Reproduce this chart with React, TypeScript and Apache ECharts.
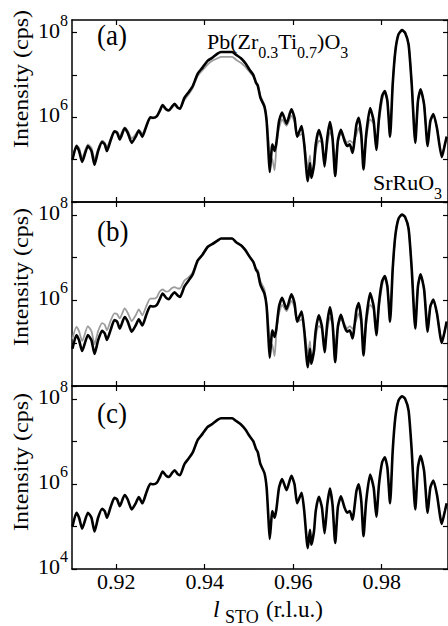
import React, { useEffect, useRef } from "react";
import * as echarts from "echarts";

// l_STO (r.l.u.) sample positions
const lSto = [
  0.9101, 0.9110, 0.9116, 0.9123, 0.9136, 0.9144, 0.9151, 0.9159, 0.9168, 0.9174,
  0.9179, 0.9187, 0.9196, 0.9202, 0.9208, 0.9219, 0.9226, 0.9235, 0.9244, 0.9251,
  0.9259, 0.9268, 0.9277, 0.9284, 0.9292, 0.9298, 0.9305, 0.9313, 0.9319, 0.9326,
  0.9332, 0.9339, 0.9344, 0.9354, 0.9364, 0.9373, 0.9384, 0.9395, 0.9407, 0.9418,
  0.9429, 0.9437, 0.9448, 0.9462, 0.9471, 0.9482, 0.9492, 0.9501, 0.9510, 0.9516,
  0.9520, 0.9526, 0.9535, 0.9540, 0.9544, 0.9547, 0.9553, 0.9558, 0.9562, 0.9568,
  0.9575, 0.9585, 0.9596, 0.9603, 0.9609, 0.9619, 0.9625, 0.9633, 0.9638, 0.9641,
  0.9647, 0.9651, 0.9658, 0.9665, 0.9671, 0.9677, 0.9683, 0.9689, 0.9695, 0.9701,
  0.9708, 0.9716, 0.9722, 0.9728, 0.9734, 0.9743, 0.9748, 0.9754, 0.9759, 0.9765,
  0.9774, 0.9782, 0.9788, 0.9794, 0.9801, 0.9807, 0.9813, 0.9819, 0.9825, 0.9831,
  0.9838, 0.9846, 0.9853, 0.9861, 0.9868, 0.9876, 0.9882, 0.9888, 0.9896, 0.9904,
  0.9910, 0.9917, 0.9925, 0.9936, 0.9943, 0.9947,
];

// Intensity (cps), black (thick) curves
const blackA = [
  1.0e5, 2.1e5, 1.6e5, 8.9e4, 2.1e5, 1.6e5, 7.6e4, 1.6e5, 2.6e5, 2.3e5,
  1.6e5, 2.8e5, 4.7e5, 4.3e5, 3.0e5, 5.5e5, 4.3e5, 2.5e5, 3.5e5, 4.9e5,
  3.5e5, 6.2e5, 1.0e6, 9.8e5, 1.07e6, 1.4e6, 1.95e6, 1.55e6, 1.45e6, 1.8e6,
  2.1e6, 1.7e6, 1.6e6, 2.9e6, 4.0e6, 5.5e6, 1.07e7, 1.5e7, 2.2e7, 2.6e7,
  3.2e7, 3.5e7, 3.5e7, 3.5e7, 3.0e7, 2.5e7, 1.9e7, 1.35e7, 1.0e7, 6.6e6,
  5.6e6, 2.9e6, 1.8e6, 8.1e5, 1.6e5, 5.1e4, 2.3e5, 1.6e5, 2.5e5, 8.1e5,
  1.3e6, 7.1e5, 1.55e6, 9.8e5, 3.5e5, 6.2e5, 2.3e5, 3.1e4, 8.3e4, 3.7e4,
  7.6e4, 2.3e5, 5.0e5, 2.8e5, 6.9e4, 3.2e5, 7.8e5, 3.2e5, 4.1e4, 2.8e5,
  5.1e5, 2.8e5, 2.1e5, 2.3e5, 1.45e5, 6.8e5, 9.8e5, 3.9e5, 5.9e4, 3.9e5,
  1.66e6, 8.1e5, 1.7e5, 9.8e5, 3.2e6, 4.2e6, 2.4e6, 3.5e5, 6.0e6, 3.7e7,
  9.1e7, 1.15e8, 1.0e8, 5.2e7, 6.0e6, 2.5e5, 2.4e6, 4.6e6, 2.0e6, 2.1e5,
  8.1e5, 1.2e6, 5.6e5, 1.15e5, 2.3e5, 3.5e5,
];
const blackB = [
  7.4e4, 1.55e5, 1.17e5, 6.6e4, 1.55e5, 1.17e5, 5.6e4, 1.17e5, 1.95e5, 1.7e5,
  1.2e5, 2.0e5, 3.5e5, 3.2e5, 2.2e5, 4.1e5, 3.2e5, 1.86e5, 2.6e5, 3.6e5,
  2.6e5, 4.6e5, 7.4e5, 7.2e5, 7.9e5, 1.05e6, 1.45e6, 1.15e6, 1.07e6, 1.35e6,
  1.55e6, 1.3e6, 1.2e6, 2.1e6, 2.95e6, 4.1e6, 8.5e6, 1.17e7, 1.8e7, 2.1e7,
  2.5e7, 2.8e7, 2.8e7, 2.8e7, 2.3e7, 1.95e7, 1.5e7, 1.07e7, 7.9e6, 5.2e6,
  4.5e6, 2.3e6, 1.45e6, 7.2e5, 1.4e5, 4.6e4, 2.0e5, 1.4e5, 2.2e5, 7.2e5,
  1.15e6, 6.3e5, 1.4e6, 8.7e5, 3.2e5, 5.5e5, 2.0e5, 2.75e4, 7.4e4, 3.3e4,
  6.8e4, 2.0e5, 4.5e5, 2.45e5, 6.2e4, 2.9e5, 6.9e5, 2.9e5, 3.6e4, 2.45e5,
  4.6e5, 2.45e5, 1.86e5, 2.0e5, 1.3e5, 6.0e5, 8.7e5, 3.5e5, 5.2e4, 3.5e5,
  1.48e6, 7.2e5, 1.55e5, 8.7e5, 2.8e6, 3.7e6, 2.1e6, 3.2e5, 5.4e6, 3.3e7,
  8.1e7, 1.02e8, 8.9e7, 4.7e7, 5.4e6, 2.2e5, 2.1e6, 4.1e6, 1.8e6, 1.86e5,
  7.2e5, 1.05e6, 5.0e5, 1.02e5, 2.0e5, 3.2e5,
];
const blackC = [...blackA];

// Intensity (cps), grey (dotted) curve in panel (a)
const grayA = [
  1.1e5, 2.2e5, 1.9e5, 1.1e5, 2.3e5, 1.9e5, 1.0e5, 1.8e5, 2.8e5, 2.5e5,
  2.0e5, 3.0e5, 4.8e5, 4.6e5, 3.6e5, 5.8e5, 4.8e5, 3.2e5, 4.0e5, 5.0e5,
  4.2e5, 6.3e5, 9.5e5, 9.5e5, 1.05e6, 1.35e6, 1.8e6, 1.5e6, 1.5e6, 1.7e6,
  1.9e6, 1.7e6, 1.66e6, 2.6e6, 3.5e6, 5.0e6, 9.5e6, 1.3e7, 1.8e7, 2.2e7,
  2.5e7, 2.7e7, 2.7e7, 2.7e7, 2.3e7, 1.95e7, 1.55e7, 1.2e7, 9.2e6, 6.6e6,
  5.8e6, 3.2e6, 2.0e6, 8.9e5, 3.2e5, 1.26e5, 1.0e5, 5.6e4, 2.0e5, 5.6e5,
  8.9e5, 6.3e5, 1.1e6, 7.9e5, 3.5e5, 4.0e5, 2.5e5, 6.3e4, 1.26e5, 5.0e4,
  6.3e4, 1.6e5, 2.8e5, 2.5e5, 1.0e5, 2.2e5, 4.5e5, 3.2e5, 1.0e5, 2.5e5,
  4.0e5, 3.2e5, 2.5e5, 2.8e5, 2.5e5, 4.0e5, 5.6e5, 3.2e5, 8.9e4, 3.2e5,
  8.9e5, 7.1e5, 2.5e5, 7.9e5, 2.5e6, 4.0e6, 2.5e6, 5.0e5, 6.3e6, 3.7e7,
  9.1e7, 1.12e8, 1.0e8, 5.2e7, 6.3e6, 3.2e5, 2.4e6, 4.5e6, 2.0e6, 2.5e5,
  7.9e5, 1.1e6, 5.6e5, 1.26e5, 2.3e5, 3.5e5,
];

// Intensity (cps), grey (dotted) curve in panel (b)
const grayB = [
  1.26e5, 2.4e5, 1.9e5, 1.12e5, 2.5e5, 1.9e5, 9.5e4, 1.9e5, 2.95e5, 2.7e5,
  2.0e5, 3.3e5, 5.0e5, 4.8e5, 3.8e5, 6.5e5, 5.1e5, 3.3e5, 4.5e5, 6.2e5,
  4.5e5, 7.4e5, 1.1e6, 1.1e6, 1.2e6, 1.6e6, 1.8e6, 1.6e6, 1.66e6, 1.95e6,
  2.05e6, 1.9e6, 1.9e6, 2.9e6, 3.5e6, 4.6e6, 8.5e6, 1.17e7, 1.8e7, 2.1e7,
  2.5e7, 2.8e7, 2.8e7, 2.8e7, 2.3e7, 1.95e7, 1.5e7, 1.07e7, 7.9e6, 5.4e6,
  5.2e6, 2.8e6, 1.8e6, 7.9e5, 2.8e5, 1.12e5, 8.9e4, 5.0e4, 1.8e5, 5.0e5,
  7.9e5, 5.6e5, 9.8e5, 7.0e5, 3.1e5, 3.6e5, 2.2e5, 5.6e4, 1.12e5, 4.5e4,
  5.6e4, 1.4e5, 2.5e5, 2.2e5, 8.9e4, 2.0e5, 4.0e5, 2.8e5, 8.9e4, 2.2e5,
  3.6e5, 2.8e5, 2.2e5, 2.5e5, 2.2e5, 3.6e5, 5.0e5, 2.8e5, 7.9e4, 2.8e5,
  7.9e5, 6.3e5, 2.2e5, 7.0e5, 2.2e6, 3.6e6, 2.2e6, 4.5e5, 5.6e6, 3.3e7,
  8.1e7, 1.0e8, 8.9e7, 4.6e7, 5.6e6, 2.8e5, 2.1e6, 4.0e6, 1.8e6, 2.2e5,
  7.0e5, 9.8e5, 5.0e5, 1.12e5, 2.0e5, 3.1e5,
];

const xTicks = [0.92, 0.94, 0.96, 0.98];
const yLabelExps = [4, 6, 8];
const panelLabels = ["(a)", "(b)", "(c)"];

const FONT = '"Liberation Serif", "Times New Roman", serif';

const grids = [
  { top: 20, height: 182 },
  { top: 202, height: 184 },
  { top: 386, height: 183 },
];

function yFormatter(showLow: boolean) {
  return (v: number) => {
    const e = Math.log10(v);
    const r = Math.round(e);
    if (Math.abs(e - r) > 1e-6) return "";
    if (!yLabelExps.includes(r)) return "";
    if (r === yLabelExps[0] && !showLow) return "";
    return `{b|10}{s|${r}}`;
  };
}

const pairs = (ys: number[]) => lSto.map((x, i) => [x, ys[i]]);

export default function App() {
  const ref = useRef<HTMLDivElement>(null);
  useEffect(() => {
    if (!ref.current) return;
    const chart = echarts.init(ref.current, null, { renderer: "svg" });
    const xAxis: any[] = [];
    const yAxis: any[] = [];
    grids.forEach((g, i) => {
      const common = {
        gridIndex: i,
        type: "value",
        min: 0.91,
        max: 0.995,
        splitLine: { show: false },
        axisLine: { show: true, onZero: false, lineStyle: { color: "#000", width: 1.5 } },
        axisTick: {
          show: true,
          inside: true,
          length: 5,
          customValues: xTicks,
          lineStyle: { color: "#000", width: 1.2 },
        },
      };
      xAxis.push({
        ...common,
        position: "bottom",
        axisLabel: {
          show: i === 2,
          customValues: xTicks,
          formatter: (v: number) => v.toFixed(2),
          fontSize: 22,
          lineHeight: 22,
          fontFamily: FONT,
          color: "#000",
          margin: 1,
        },
      });
      xAxis.push({ ...common, position: "top", axisLabel: { show: false } });
      const ycommon = {
        gridIndex: i,
        type: "log",
        logBase: 10,
        min: 1e4,
        max: 2e8,
        splitLine: { show: false },
        axisLine: { show: true, onZero: false, lineStyle: { color: "#000", width: 1.5 } },
        axisTick: { show: true, inside: true, length: 5, lineStyle: { color: "#000", width: 1.2 } },
      };
      yAxis.push({
        ...ycommon,
        position: "left",
        axisLabel: {
          show: true,
          margin: 4,
          padding: [0, 0, 5, 0],
          formatter: yFormatter(i === 2),
          showMaxLabel: false,
          rich: {
            b: {
              fontSize: 22,
              fontFamily: FONT,
              color: "#000",
              lineHeight: 36,
              verticalAlign: "middle",
            },
            s: {
              fontSize: 16,
              fontFamily: FONT,
              color: "#000",
              lineHeight: 16,
              verticalAlign: "top",
            },
          },
        },
      });
      yAxis.push({ ...ycommon, position: "right", axisLabel: { show: false } });
    });

    const line = (p: number, ys: number[], color: string, width: number, z: number) => ({
      type: "line",
      xAxisIndex: p * 2,
      yAxisIndex: p * 2,
      data: pairs(ys),
      symbol: "none",
      showSymbol: false,
      smooth: 0.2,
      silent: true,
      z,
      lineStyle: { color, width },
    });

    const graphic: any[] = [];
    const intensityY = [79, 277, 462];
    intensityY.forEach((y) => {
      graphic.push({
        type: "text",
        x: 21,
        y,
        rotation: Math.PI / 2,
        scaleX: 1.2,
        style: {
          text: "Intensity (cps)",
          fontSize: 20,
          fontFamily: FONT,
          fill: "#000",
          align: "center",
          verticalAlign: "middle",
        },
      });
    });
    const labelY = [35, 231, 413];
    panelLabels.forEach((t, i) => {
      graphic.push({
        type: "text",
        x: 97,
        y: labelY[i],
        scaleY: 1.1,
        style: { text: t, fontSize: 27, fontFamily: FONT, fill: "#000", align: "left", verticalAlign: "middle" },
      });
    });
    const richSub = {
      m: { fontSize: 22, fontFamily: FONT, fill: "#000", lineHeight: 30, verticalAlign: "top" },
      u: { fontSize: 16, fontFamily: FONT, fill: "#000", lineHeight: 30, verticalAlign: "bottom" },
    };
    graphic.push({
      type: "text",
      x: 207,
      y: 30,
      style: {
        text: "{m|Pb(Zr}{u|0.3}{m|Ti}{u|0.7}{m|)O}{u|3}",
        rich: richSub,
        fill: "#000",
        align: "left",
        verticalAlign: "top",
      },
    });
    graphic.push({
      type: "text",
      x: 373,
      y: 171,
      style: {
        text: "{m|SrRuO}{u|3}",
        rich: richSub,
        fill: "#000",
        align: "left",
        verticalAlign: "top",
      },
    });
    graphic.push({
      type: "text",
      x: 213,
      y: 609,
      style: {
        text: "l",
        fontSize: 24,
        lineHeight: 24,
        fontFamily: FONT,
        fontStyle: "italic",
        fill: "#000",
        align: "left",
        verticalAlign: "middle",
      },
    });
    graphic.push({
      type: "text",
      x: 225,
      y: 617,
      style: { text: "STO", fontSize: 18, lineHeight: 18, fontFamily: FONT, fill: "#000", align: "left", verticalAlign: "middle" },
    });
    graphic.push({
      type: "text",
      x: 266,
      y: 609,
      style: {
        text: "(r.l.u.)",
        fontSize: 23,
        lineHeight: 23,
        fontFamily: FONT,
        fill: "#000",
        align: "left",
        verticalAlign: "middle",
      },
    });

    chart.setOption({
      animation: false,
      backgroundColor: "#fff",
      grid: grids.map((g) => ({ left: 72, width: 377, top: g.top, height: g.height, containLabel: false })),
      xAxis,
      yAxis,
      series: [
        line(0, grayA, "#9c9c9c", 1.8, 2),
        line(0, blackA, "#000", 2.6, 3),
        line(1, grayB, "#9c9c9c", 1.8, 2),
        line(1, blackB, "#000", 2.6, 3),
        line(2, blackC, "#000", 2.6, 3),
      ],
      graphic,
    });
    return () => chart.dispose();
  }, []);
  return (
    <div
      ref={ref}
      style={{ position: "fixed", left: 0, top: 0, width: 448, height: 626, background: "#fff" }}
    />
  );
}
